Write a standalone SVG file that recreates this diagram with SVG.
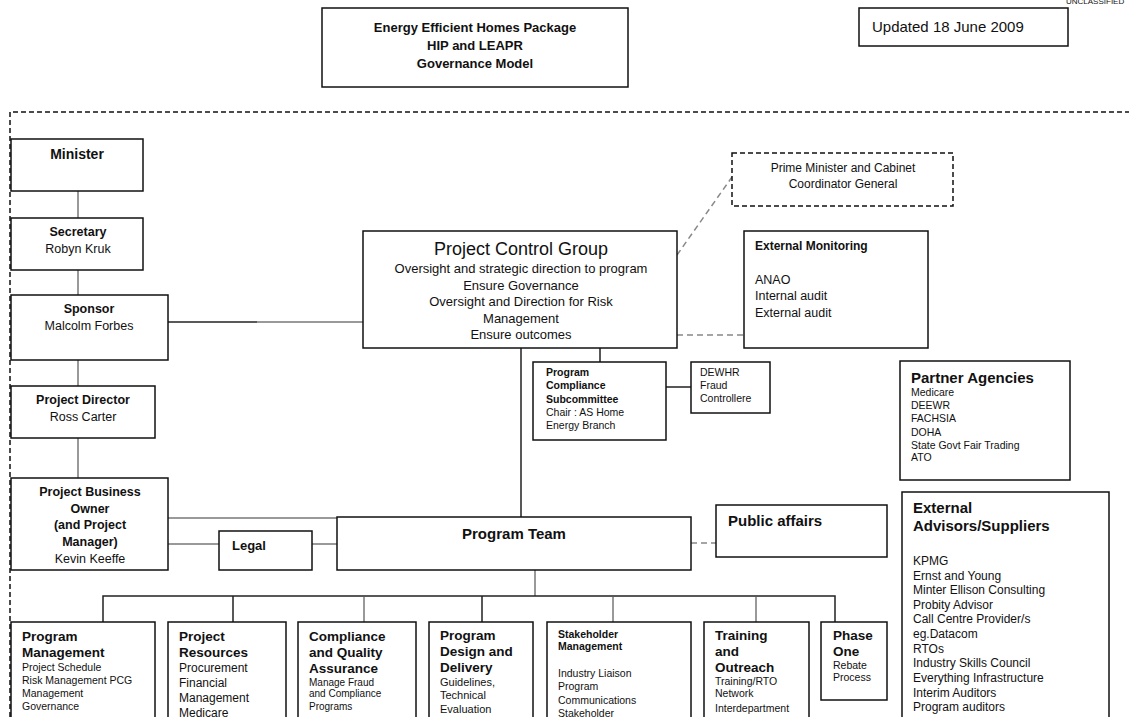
<svg xmlns="http://www.w3.org/2000/svg" width="1129" height="717" viewBox="0 0 1129 717">
<style>
text{font-family:"Liberation Sans",Arial,sans-serif;fill:#111}
.box{fill:#fff;stroke:#111;stroke-width:1.5}
.dbox{fill:#fff;stroke:#111;stroke-width:1.5;stroke-dasharray:5,3}
.b{font-weight:bold}
.c{text-anchor:middle}
.k{stroke:#222;stroke-width:1.5;fill:none}
.g{stroke:#999;stroke-width:2;fill:none}
.gd{stroke:#888;stroke-width:1.5;fill:none;stroke-dasharray:6,4}
.bd{stroke:#111;stroke-width:1.5;fill:none;stroke-dasharray:5,3}
</style>
<rect width="1129" height="717" fill="#fff"/>
<text x="1066" y="4" font-size="8" fill="#333">UNCLASSIFIED</text>
<g id="frame"><path class="bd" d="M10,717 V112 H1129"/></g>
<g id="title"><rect class="box" x="322" y="8" width="306" height="79"/>
<text class="b c" x="475" y="32" font-size="13">Energy Efficient Homes Package</text>
<text class="b c" x="475" y="50" font-size="13">HIP and LEAPR</text>
<text class="b c" x="475" y="68" font-size="13">Governance Model</text></g>
<g id="updated"><rect class="box" x="859" y="8" width="209" height="38"/>
<text x="872" y="32" font-size="15">Updated 18 June 2009</text></g>
<g id="connectors">
<path class="g" d="M78,190V218M78,270V295M78,360V386M78,438V478"/>
<path class="k" d="M168,322H257"/><path class="g" d="M257,322H363"/>
<path class="gd" d="M677,255L732,177"/>
<path class="gd" d="M677,335H744"/>
<path class="k" d="M600,348V362M666,387H691M521,348V517"/>
<path class="g" d="M168,518H337M168,544H219M312,544H337"/>
<path class="gd" d="M691,543H716"/>
<path class="g" d="M535,570V596"/>
<path class="k" d="M103,622V596H835V622M233,596V622M482,596V622"/>
<path class="g" d="M364,597V622M613,597V622M756,597V622"/>
</g>
<g id="minister"><rect class="box" x="11" y="139" width="132" height="52"/>
<text class="b c" x="77" y="159" font-size="14">Minister</text></g>
<g id="secretary"><rect class="box" x="11" y="218" width="132" height="52"/>
<text class="b c" x="78" y="236" font-size="12.5">Secretary</text>
<text class="c" x="78" y="253" font-size="12.5">Robyn Kruk</text></g>
<g id="sponsor"><rect class="box" x="11" y="295" width="157" height="65"/>
<text class="b c" x="89" y="313" font-size="12.5">Sponsor</text>
<text class="c" x="89" y="330" font-size="12.5">Malcolm Forbes</text></g>
<g id="director"><rect class="box" x="11" y="386" width="144" height="52"/>
<text class="b c" x="83" y="404" font-size="12.5">Project Director</text>
<text class="c" x="83" y="421" font-size="12.5">Ross Carter</text></g>
<g id="pbo"><rect class="box" x="11" y="478" width="157" height="92"/>
<text class="b c" x="90" y="496" font-size="12.5">Project Business</text>
<text class="b c" x="90" y="513" font-size="12.5">Owner</text>
<text class="b c" x="90" y="529" font-size="12.5">(and Project</text>
<text class="b c" x="90" y="546" font-size="12.5">Manager)</text>
<text class="c" x="90" y="563" font-size="12.5">Kevin Keeffe</text></g>
<g id="legal"><rect class="box" x="219" y="531" width="93" height="39"/>
<text class="b" x="232" y="550" font-size="13">Legal</text></g>
<g id="pcg"><rect class="box" x="363" y="231" width="314" height="117"/>
<text class="c" x="521" y="255" font-size="18">Project Control Group</text>
<text class="c" x="521" y="273" font-size="13">Oversight and strategic direction to program</text>
<text class="c" x="521" y="290" font-size="13">Ensure Governance</text>
<text class="c" x="521" y="306" font-size="13">Oversight and Direction for Risk</text>
<text class="c" x="521" y="323" font-size="13">Management</text>
<text class="c" x="521" y="339" font-size="13">Ensure outcomes</text></g>
<g id="pmc"><rect class="dbox" x="732" y="153" width="221" height="53"/>
<text class="c" x="843" y="172" font-size="12">Prime Minister and Cabinet</text>
<text class="c" x="843" y="188" font-size="12">Coordinator General</text></g>
<g id="extmon"><rect class="box" x="744" y="231" width="184" height="117"/>
<text class="b" x="755" y="250" font-size="12">External Monitoring</text>
<text x="755" y="284" font-size="12.5">ANAO</text>
<text x="755" y="300" font-size="12.5">Internal audit</text>
<text x="755" y="317" font-size="12.5">External audit</text></g>
<g id="pcs"><rect class="box" x="533" y="362" width="133" height="78"/>
<text class="b" x="546" y="376" font-size="10.5">Program</text>
<text class="b" x="546" y="389" font-size="10.5">Compliance</text>
<text class="b" x="546" y="403" font-size="10.5">Subcommittee</text>
<text x="546" y="416" font-size="10.5">Chair : AS Home</text>
<text x="546" y="429" font-size="10.5">Energy Branch</text></g>
<g id="dewhr"><rect class="box" x="691" y="362" width="79" height="51"/>
<text x="700" y="376" font-size="10.5">DEWHR</text>
<text x="700" y="389" font-size="10.5">Fraud</text>
<text x="700" y="402" font-size="10.5">Controllere</text></g>
<g id="partners"><rect class="box" x="900" y="361" width="170" height="119"/>
<text class="b" x="911" y="383" font-size="15">Partner Agencies</text>
<text x="911" y="396" font-size="10.5">Medicare</text>
<text x="911" y="409" font-size="10.5">DEEWR</text>
<text x="911" y="422" font-size="10.5">FACHSIA</text>
<text x="911" y="436" font-size="10.5">DOHA</text>
<text x="911" y="449" font-size="10.5">State Govt Fair Trading</text>
<text x="911" y="461" font-size="10.5">ATO</text></g>
<g id="programteam"><rect class="box" x="337" y="517" width="354" height="53"/>
<text class="b c" x="514" y="539" font-size="15">Program Team</text></g>
<g id="public"><rect class="box" x="716" y="505" width="171" height="52"/>
<text class="b" x="728" y="526" font-size="15">Public affairs</text></g>
<g id="advisors"><rect class="box" x="902" y="492" width="207" height="240"/>
<text class="b" x="913" y="513" font-size="15">External</text>
<text class="b" x="913" y="531" font-size="15">Advisors/Suppliers</text>
<text x="913" y="565" font-size="12">KPMG</text>
<text x="913" y="580" font-size="12">Ernst and Young</text>
<text x="913" y="594" font-size="12">Minter Ellison Consulting</text>
<text x="913" y="609" font-size="12">Probity Advisor</text>
<text x="913" y="623" font-size="12">Call Centre Provider/s</text>
<text x="913" y="638" font-size="12">eg.Datacom</text>
<text x="913" y="653" font-size="12">RTOs</text>
<text x="913" y="667" font-size="12">Industry Skills Council</text>
<text x="913" y="682" font-size="12">Everything Infrastructure</text>
<text x="913" y="697" font-size="12">Interim Auditors</text>
<text x="913" y="711" font-size="12">Program auditors</text></g>
<g id="progmgmt"><rect class="box" x="11" y="622" width="144" height="110"/>
<text class="b" x="22" y="641" font-size="13.5">Program</text>
<text class="b" x="22" y="657" font-size="13.5">Management</text>
<text x="22" y="671" font-size="10.5">Project Schedule</text>
<text x="22" y="684" font-size="10.5">Risk Management PCG</text>
<text x="22" y="697" font-size="10.5">Management</text>
<text x="22" y="710" font-size="10.5">Governance</text></g>
<g id="resources"><rect class="box" x="168" y="622" width="118" height="110"/>
<text class="b" x="179" y="641" font-size="13.5">Project</text>
<text class="b" x="179" y="657" font-size="13.5">Resources</text>
<text x="179" y="672" font-size="12">Procurement</text>
<text x="179" y="687" font-size="12">Financial</text>
<text x="179" y="702" font-size="12">Management</text>
<text x="179" y="717" font-size="12">Medicare</text></g>
<g id="compliance"><rect class="box" x="298" y="622" width="118" height="110"/>
<text class="b" x="309" y="641" font-size="13.5">Compliance</text>
<text class="b" x="309" y="657" font-size="13.5">and Quality</text>
<text class="b" x="309" y="673" font-size="13.5">Assurance</text>
<text x="309" y="686" font-size="10">Manage Fraud</text>
<text x="309" y="697" font-size="10">and Compliance</text>
<text x="309" y="710" font-size="10">Programs</text></g>
<g id="design"><rect class="box" x="429" y="622" width="104" height="110"/>
<text class="b" x="440" y="640" font-size="13.5">Program</text>
<text class="b" x="440" y="656" font-size="13.5">Design and</text>
<text class="b" x="440" y="672" font-size="13.5">Delivery</text>
<text x="440" y="686" font-size="11">Guidelines,</text>
<text x="440" y="699" font-size="11">Technical</text>
<text x="440" y="713" font-size="11">Evaluation</text></g>
<g id="stakeholder"><rect class="box" x="547" y="622" width="144" height="110"/>
<text class="b" x="558" y="638" font-size="10.5">Stakeholder</text>
<text class="b" x="558" y="650" font-size="10.5">Management</text>
<text x="558" y="677" font-size="10.5">Industry Liaison</text>
<text x="558" y="690" font-size="10.5">Program</text>
<text x="558" y="704" font-size="10.5">Communications</text>
<text x="558" y="717" font-size="10.5">Stakeholder</text></g>
<g id="training"><rect class="box" x="704" y="622" width="105" height="110"/>
<text class="b" x="715" y="640" font-size="13.5">Training</text>
<text class="b" x="715" y="656" font-size="13.5">and</text>
<text class="b" x="715" y="672" font-size="13.5">Outreach</text>
<text x="715" y="685" font-size="10.5">Training/RTO</text>
<text x="715" y="697" font-size="10.5">Network</text>
<text x="715" y="712" font-size="10.5">Interdepartment</text></g>
<g id="phaseone"><rect class="box" x="821" y="622" width="66" height="78"/>
<text class="b" x="833" y="640" font-size="13.5">Phase</text>
<text class="b" x="833" y="656" font-size="13.5">One</text>
<text x="833" y="669" font-size="10.5">Rebate</text>
<text x="833" y="681" font-size="10.5">Process</text></g>
</svg>
